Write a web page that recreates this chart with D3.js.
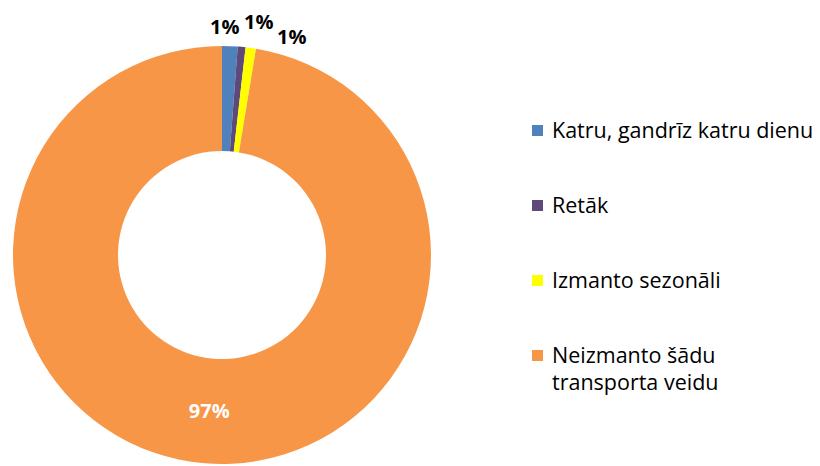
<!DOCTYPE html>
<html>
<head>
<meta charset="utf-8">
<style>
  body { margin: 0; background: #fff; }
  svg { font-family: "Open Sans", Lato, sans-serif; }
</style>
</head>
<body>
<svg width="820" height="466"></svg>
<script src="https://d3js.org/d3.v7.min.js"></script>
<script>

const categories = ["Katru, gandrīz katru dienu", "Retāk", "Izmanto sezonāli", "Neizmanto šādu transporta veidu"];
const values = [1.2, 0.6, 0.8, 97.4];
const labels = ["1%", "1%", "1%", "97%"];
const colors = ["#4F81BD", "#5F497A", "#FFFF00", "#F79646"];
const legendLines = [["Katru, gandrīz katru dienu"], ["Retāk"], ["Izmanto sezonāli"], ["Neizmanto šādu", "transporta veidu"]];

const svg = d3.select("svg");
const cx = 222, cy = 255, outerR = 209, innerR = 104;

const data = categories.map((c, i) => ({ name: c, value: values[i], label: labels[i], color: colors[i] }));

const pie = d3.pie().sort(null).value(d => d.value);
const arc = d3.arc().innerRadius(innerR).outerRadius(outerR);
const arcs = pie(data);

const g = svg.append("g").attr("transform", `translate(${cx},${cy})`);

g.selectAll("path")
  .data(arcs)
  .enter()
  .append("path")
  .attr("d", arc)
  .attr("fill", d => d.data.color);

// big slice label inside the ring
g.selectAll("text.inner")
  .data(arcs.filter(d => d.data.value > 10))
  .enter()
  .append("text")
  .attr("class", "inner")
  .attr("x", d => arc.centroid(d)[0])
  .attr("y", d => arc.centroid(d)[1] + 7)
  .attr("text-anchor", "middle")
  .attr("font-weight", "bold")
  .attr("font-size", 20)
  .attr("fill", "#fff")
  .text(d => d.data.label);

// small slices: labels outside, pushed apart so they don't overlap
const outArc = d3.arc().innerRadius(outerR + 22).outerRadius(outerR + 22);
const nudge = [[-6, 3], [15, -3], [38, 11]];
g.selectAll("text.outer")
  .data(arcs.filter(d => d.data.value <= 10))
  .enter()
  .append("text")
  .attr("class", "outer")
  .attr("x", (d, i) => outArc.centroid(d)[0] + nudge[i][0])
  .attr("y", (d, i) => outArc.centroid(d)[1] + nudge[i][1] + 7)
  .attr("text-anchor", "middle")
  .attr("font-weight", "bold")
  .attr("font-size", 20)
  .attr("fill", "#000")
  .text(d => d.data.label);

// legend
const legendY = d3.scalePoint().domain(categories).range([131, 356]);
const legend = svg.append("g")
  .selectAll("g")
  .data(data)
  .enter()
  .append("g")
  .attr("transform", d => `translate(532,${legendY(d.name)})`);

legend.append("rect")
  .attr("x", 0)
  .attr("y", -6)
  .attr("width", 11)
  .attr("height", 11)
  .attr("fill", d => d.color);

legend.append("text")
  .attr("x", 20)
  .attr("y", 7)
  .attr("font-size", 21.5)
  .attr("fill", "#000")
  .selectAll("tspan")
  .data((d, i) => legendLines[i])
  .enter()
  .append("tspan")
  .attr("x", 20)
  .attr("dy", (d, i) => i === 0 ? 0 : 27)
  .text(d => d);

</script>
</body>
</html>
